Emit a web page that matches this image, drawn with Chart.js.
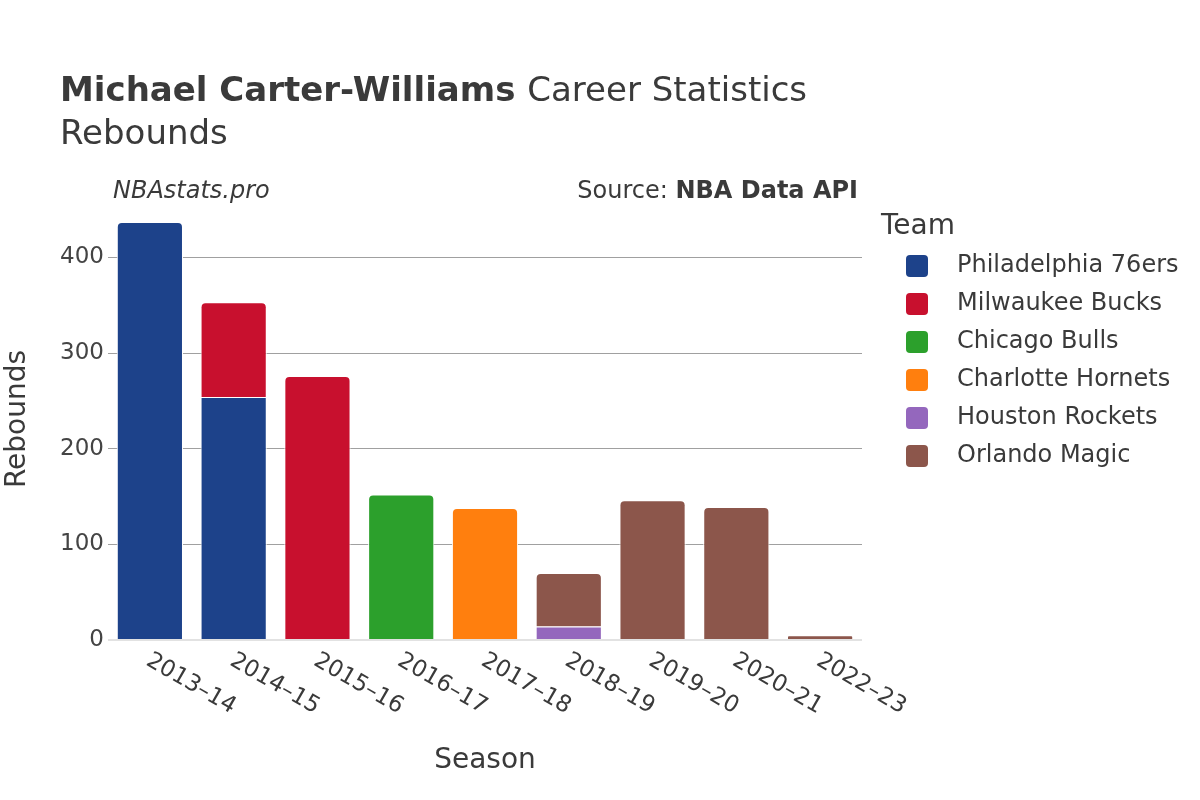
<!DOCTYPE html>
<html>
<head>
<meta charset="utf-8">
<script src="https://cdn.jsdelivr.net/npm/chart.js@4.4.1/dist/chart.umd.min.js"></script>
<style>
  body { margin: 0; background: #fff; }
  #wrap { width: 1200px; height: 800px; }
</style>
</head>
<body>
<div id="wrap"><canvas id="chart" width="1200" height="800"></canvas></div>
<script>
const seasons = ['2013–14', '2014–15', '2015–16', '2016–17', '2017–18', '2018–19', '2019–20', '2020–21', '2022–23'];
const teams = ['Philadelphia 76ers', 'Milwaukee Bucks', 'Chicago Bulls', 'Charlotte Hornets', 'Houston Rockets', 'Orlando Magic'];
const teamColors = ['#1d428a', '#c8102e', '#2ca02c', '#ff7f0e', '#9467bd', '#8c564b'];

const phi = [437, 254, null, null, null, null, null, null, null];
const mil = [null, 99, 276, null, null, null, null, null, null];
const chi = [null, null, null, 152, null, null, null, null, null];
const cha = [null, null, null, null, 138, null, null, null, null];
const hou = [null, null, null, null, null, 14, null, null, null];
const orl = [null, null, null, null, null, 56, 146, 139, 5];

const yTicks = [0, 100, 200, 300, 400];

const series = [phi, mil, chi, cha, hou, orl];
const FONT = '"DejaVu Sans", sans-serif';
const TEXT = '#3a3a3a';

// titles, rotated season labels and legend drawn on the canvas
const decor = {
  id: 'decor',
  afterDraw(chart) {
    const c = chart.ctx;
    const area = chart.chartArea;
    c.save();
    c.fillStyle = TEXT;
    c.textBaseline = 'alphabetic';
    c.textAlign = 'left';
    c.font = 'bold 34px ' + FONT;
    const boldPart = 'Michael Carter-Williams';
    c.fillText(boldPart, 60, 101);
    const w = c.measureText(boldPart + ' ').width;
    c.font = '34px ' + FONT;
    c.fillText('Career Statistics', 60 + w, 101);
    c.fillText('Rebounds', 60, 144);

    c.font = 'italic 24px ' + FONT;
    c.textBaseline = 'middle';
    c.fillText('NBAstats.pro', 113, 192);
    c.textAlign = 'right';
    c.font = 'bold 24px ' + FONT;
    const src = 'NBA Data API';
    c.fillText(src, 858, 192);
    const sw = c.measureText(src).width;
    c.font = '24px ' + FONT;
    c.fillText('Source: ', 858 - sw, 192);

    // axis titles
    c.textAlign = 'center';
    c.font = '28px ' + FONT;
    c.fillText('Season', (area.left + area.right) / 2, 761);
    c.save();
    c.translate(18, 419);
    c.rotate(-Math.PI / 2);
    c.fillText('Rebounds', 0, 0);
    c.restore();

    // season labels, rotated clockwise
    const xs = chart.scales.x;
    c.font = '23px ' + FONT;
    c.textAlign = 'left';
    seasons.forEach((s, i) => {
      const x = xs.getPixelForTick(i);
      c.save();
      c.translate(x - 2, area.bottom + 19);
      c.rotate(Math.PI / 6);
      c.fillText(s, 0, 0);
      c.restore();
    });

    // legend
    c.font = '28px ' + FONT;
    c.fillText('Team', 881, 227);
    c.font = '24px ' + FONT;
    chart.data.datasets.forEach((ds, i) => {
      const y = 266 + i * 38;
      c.fillStyle = ds.backgroundColor;
      c.beginPath();
      c.roundRect(906, y - 11, 22, 22, 4);
      c.fill();
      c.fillStyle = TEXT;
      c.fillText(ds.label, 957, y);
    });
    c.restore();
  }
};

new Chart(document.getElementById('chart'), {
  type: 'bar',
  data: {
    labels: seasons,
    datasets: teams.map((t, i) => ({
      label: t,
      data: series[i],
      backgroundColor: teamColors[i],
      borderColor: '#ffffff',
      borderWidth: 1,
      borderRadius: 5,
      barPercentage: 0.79,
      categoryPercentage: 1.0
    }))
  },
  options: {
    responsive: false,
    animation: false,
    devicePixelRatio: 1,
    layout: { padding: { top: 200, right: 338, left: 0, bottom: 0 } },
    plugins: { legend: { display: false }, tooltip: { enabled: false } },
    scales: {
      x: {
        stacked: true,
        grid: { display: false },
        border: { display: false },
        ticks: { display: false },
        afterFit(scale) { scale.height = 160; }
      },
      y: {
        stacked: true,
        min: 0,
        max: 460,
        border: { display: false },
        afterBuildTicks(axis) {
          axis.ticks = yTicks.map(v => ({ value: v }));
        },
        afterFit(scale) { scale.width = 108; },
        grid: {
          drawTicks: false,
          color: ctx => ctx.tick && ctx.tick.value === 0 ? '#e2e2e2' : '#a0a0a0',
          lineWidth: ctx => ctx.tick && ctx.tick.value === 0 ? 2 : 1
        },
        ticks: {
          padding: 4,
          color: '#444',
          font: { family: FONT, size: 23 }
        }
      }
    }
  },
  plugins: [decor]
});
</script>
</body>
</html>
